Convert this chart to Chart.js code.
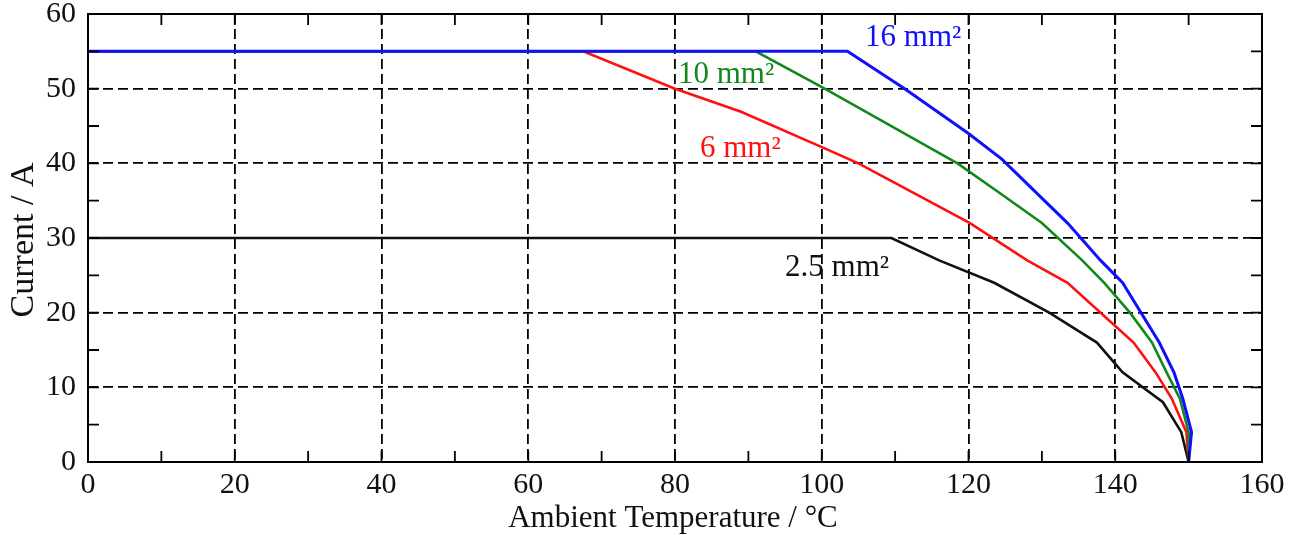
<!DOCTYPE html>
<html>
<head>
<meta charset="utf-8">
<script src="https://cdn.jsdelivr.net/npm/chart.js@4.4.1/dist/chart.umd.min.js"></script>
<style>
  html, body { margin: 0; padding: 0; background: #fff; }
  #wrap { width: 1304px; height: 535px; position: relative; }
</style>
</head>
<body>
<div id="wrap"><canvas id="derating"></canvas></div>
<script>
// values (temperature in °C, current in A)
const temp16 = [0, 103.5, 111.3, 120, 124.5, 133.5, 138, 141, 146, 148, 149.2, 150.4, 150];
const amps16 = [55, 55, 50, 44, 40.6, 32, 27, 24, 16, 12, 8.5, 4, 0];

const temp10 = [0, 91, 100.4, 118.5, 124.3, 130, 135.5, 138.5, 142, 145, 147, 148.8, 150, 150];
const amps10 = [55, 55, 50, 40, 36, 32, 27, 24, 20, 16, 12, 8.5, 4, 0];

const temp6 = [0, 67.5, 80, 89, 100.4, 105, 112, 120.2, 128, 133.5, 138, 142.5, 145.5, 147.7, 149.7, 150];
const amps6 = [55, 55, 50, 46.9, 42, 40, 36.3, 32, 27, 24, 20, 16, 12, 8.5, 4, 0];

const temp25 = [0, 109.5, 116, 123.5, 131, 137.5, 141, 146.5, 149, 150];
const amps25 = [30, 30, 27, 24, 20, 16, 12, 8, 4, 0];

const seriesNames = ['16 mm²', '10 mm²', '6 mm²', '2.5 mm²'];
const seriesColors = ['#1010ff', '#13881a', '#ff1010', '#111111'];
// where each curve's name sits, in data units (left edge, middle)
const labelTemp = [105.9, 80.4, 83.4, 95.0];
const labelAmps = [56.8, 51.8, 42.0, 26.0];

const xTicks = [0, 20, 40, 60, 80, 100, 120, 140, 160];
const yTicks = [0, 10, 20, 30, 40, 50, 60];

const FONT = '"Liberation Serif", "DejaVu Serif", serif';

function pts(xs, ys) {
  return xs.map((x, i) => ({ x: x, y: ys[i] }));
}

const allSeries = [pts(temp16, amps16), pts(temp10, amps10), pts(temp6, amps6), pts(temp25, amps25)];

// frame, inward ticks, axis titles and curve names
const framePlugin = {
  id: 'frame',
  afterDraw(chart) {
    const { ctx, chartArea: a, scales } = chart;
    const xs = scales.x, ys = scales.y;
    ctx.save();
    ctx.strokeStyle = '#000';
    ctx.lineWidth = 2;
    ctx.strokeRect(a.left, a.top, a.right - a.left, a.bottom - a.top);

    ctx.lineWidth = 1.8;
    ctx.beginPath();
    for (let v = 0; v <= 160; v += 10) {
      const px = xs.getPixelForValue(v);
      ctx.moveTo(px, a.bottom); ctx.lineTo(px, a.bottom - 11);
      ctx.moveTo(px, a.top); ctx.lineTo(px, a.top + 11);
    }
    for (let v = 0; v <= 60; v += 5) {
      const py = ys.getPixelForValue(v);
      ctx.moveTo(a.left, py); ctx.lineTo(a.left + 11, py);
      ctx.moveTo(a.right, py); ctx.lineTo(a.right - 11, py);
    }
    ctx.stroke();

    ctx.fillStyle = '#111';
    ctx.textAlign = 'center';
    ctx.textBaseline = 'middle';
    ctx.font = '31px ' + FONT;
    ctx.fillText('Ambient Temperature / °C', (a.left + a.right) / 2 - 2, 519);
    ctx.save();
    ctx.translate(24, 240);
    ctx.rotate(-Math.PI / 2);
    ctx.font = '34px ' + FONT;
    ctx.fillText('Current / A', 0, 0);
    ctx.restore();

    ctx.textAlign = 'left';
    ctx.font = '31px ' + FONT;
    seriesNames.forEach((name, i) => {
      ctx.fillStyle = seriesColors[i];
      ctx.fillText(name, xs.getPixelForValue(labelTemp[i]), ys.getPixelForValue(labelAmps[i]));
    });
    ctx.restore();
  }
};

new Chart(document.getElementById('derating'), {
  type: 'line',
  data: {
    datasets: allSeries.map((d, i) => ({
      label: seriesNames[i],
      data: d,
      borderColor: seriesColors[i],
      borderWidth: i === 0 ? 3 : 2.6,
      pointRadius: 0,
      tension: 0,
      fill: false,
    })),
  },
  options: {
    responsive: true,
    maintainAspectRatio: false,
    animation: false,
    layout: { padding: { top: 14, right: 42, left: 0, bottom: 0 } },
    plugins: { legend: { display: false }, tooltip: { enabled: false } },
    scales: {
      x: {
        type: 'linear',
        min: 0,
        max: 160,
        afterFit(scale) { scale.height = 73; scale.paddingLeft = 0; scale.paddingRight = 0; },
        afterBuildTicks(scale) { scale.ticks = xTicks.map((v) => ({ value: v })); },
        grid: { color: '#000', lineWidth: 1.8, drawTicks: false },
        border: { display: false, dash: [10, 5] },
        ticks: { color: '#111', padding: 8, maxRotation: 0, font: { family: FONT, size: 30, lineHeight: 1 } },
      },
      y: {
        type: 'linear',
        min: 0,
        max: 60,
        afterFit(scale) { scale.width = 88; scale.paddingTop = 0; scale.paddingBottom = 0; },
        afterBuildTicks(scale) { scale.ticks = yTicks.map((v) => ({ value: v })); },
        grid: { color: '#000', lineWidth: 1.8, drawTicks: false },
        border: { display: false, dash: [10, 5] },
        ticks: { color: '#111', padding: 12, font: { family: FONT, size: 30, lineHeight: 1 } },
      },
    },
  },
  plugins: [framePlugin],
});
</script>
</body>
</html>
